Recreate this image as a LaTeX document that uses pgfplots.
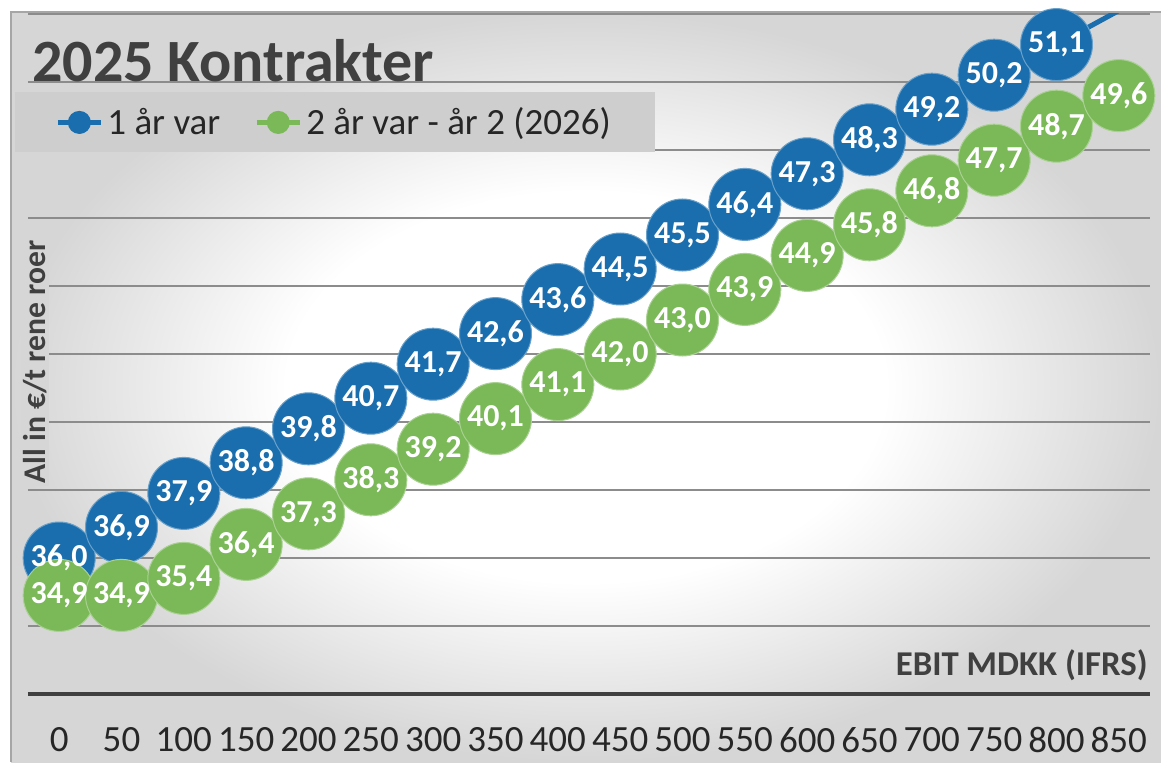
\documentclass[border=0pt]{standalone}
\usepackage{fontspec}
\setmainfont{Carlito}
\usepackage{pgfplots}
\pgfplotsset{compat=1.18}
\usepackage{pgfplotstable}
\definecolor{cblue}{RGB}{26,110,174}
\definecolor{cgreen}{RGB}{122,184,88}
\definecolor{bggray}{RGB}{214,214,214}
\definecolor{txtgray}{RGB}{64,64,64}
\definecolor{gridgray}{RGB}{140,140,140}
\definecolor{leggray}{RGB}{206,206,206}
\pgfdeclareradialshading{glow}{\pgfpoint{0bp}{0bp}}{color(0bp)=(white); color(13bp)=(white); color(25bp)=(bggray); color(50bp)=(bggray)}

\pgfplotstableread{
x y lab
0 36.0 36,0
50 36.9 36,9
100 37.9 37,9
150 38.8 38,8
200 39.8 39,8
250 40.7 40,7
300 41.7 41,7
350 42.6 42,6
400 43.6 43,6
450 44.5 44,5
500 45.5 45,5
550 46.4 46,4
600 47.3 47,3
650 48.3 48,3
700 49.2 49,2
750 50.2 50,2
800 51.1 51,1
}\blueTab

\pgfplotstableread{
x y
800 51.1
850 52.1
}\blueTail

\pgfplotstableread{
x y lab
0 34.9 34,9
50 34.9 34,9
100 35.4 35,4
150 36.4 36,4
200 37.3 37,3
250 38.3 38,3
300 39.2 39,2
350 40.1 40,1
400 41.1 41,1
450 42.0 42,0
500 43.0 43,0
550 43.9 43,9
600 44.9 44,9
650 45.8 45,8
700 46.8 46,8
750 47.7 47,7
800 48.7 48,7
850 49.6 49,6
}\greenTab

\begin{document}
\begin{tikzpicture}
\useasboundingbox (0pt,0pt) rectangle (580.5pt,381pt);
\fill[white] (0pt,0pt) rectangle (580.5pt,381pt);
\shade[shading=glow] (5.5pt,0pt) rectangle (580.5pt,375pt);
\draw[gray!70, line width=0.8pt] (5.5pt,0pt) -- (5.5pt,375pt) -- (580.5pt,375pt);

\begin{axis}[
  at={(14pt,34pt)}, anchor=south west, scale only axis,
  width=561pt, height=340pt,
  xmin=-25, xmax=875, ymin=32, ymax=52,
  axis line style={draw=none},
  xtick={0,50,...,850},
  ytick={34,36,...,52}, yticklabels={},
  major tick length=0pt,
  ymajorgrids, grid style={gridgray, line width=0.7pt},
  extra y ticks={32}, extra y tick labels={},
  extra y tick style={grid style={black!75, line width=2pt}},
  xticklabel style={anchor=center, yshift=-23pt, font=\fontsize{18.5}{22}\selectfont, text=black!85},
  /pgf/number format/assume math mode=true,
  legend style={at={(-0.0116,0.8853)}, anchor=north west, fill=leggray, draw=none,
    inner xsep=20pt, inner ysep=5.5pt, font=\fontsize{18.5}{22}\selectfont, text=black!85,
    /tikz/every even column/.append style={column sep=15pt}},
  legend columns=2, legend cell align=left,
  legend image code/.code={\draw[line width=2.5pt] (0pt,0pt) -- (21.5pt,0pt); \fill (10.75pt,0pt) circle (4.5pt);},
]
\addplot[cblue, line width=2.5pt, forget plot] table[x=x,y=y] {\blueTail};
\addplot[cblue, line width=2.5pt, mark=*, mark size=18pt, mark options={draw=white!35!cblue, line width=0.5pt, fill=cblue}] table[x=x,y=y] {\blueTab};
\addlegendentry{1 år var}
\addplot[cgreen, line width=2.5pt, mark=*, mark size=18pt, mark options={draw=white!35!cgreen, line width=0.5pt, fill=cgreen}] table[x=x,y=y] {\greenTab};
\addlegendentry{2 år var - år 2 (2026)}
\addplot[draw=none, mark=none, forget plot, nodes near coords, point meta=explicit symbolic,
  every node near coord/.style={anchor=center, text=white, font=\bfseries\fontsize{16}{18}\selectfont}]
  table[x=x,y=y,meta=lab] {\blueTab};
\addplot[draw=none, mark=none, forget plot, nodes near coords, point meta=explicit symbolic,
  every node near coord/.style={anchor=center, text=white, font=\bfseries\fontsize{16}{18}\selectfont}]
  table[x=x,y=y,meta=lab] {\greenTab};
\end{axis}

\node[anchor=base west, font=\bfseries\fontsize{30}{36}\selectfont, text=txtgray, inner sep=0pt] at (16pt,340pt) {2025 Kontrakter};
\node[rotate=90, font=\bfseries\fontsize{15.8}{18}\selectfont, text=txtgray, fill=bggray, inner sep=1pt] at (17.5pt,200pt) {All in €/t rene roer};
\node[anchor=east, font=\bfseries\fontsize{17.4}{20}\selectfont, text=txtgray, inner sep=0pt] at (574pt,48.5pt) {EBIT MDKK (IFRS)};
\end{tikzpicture}
\end{document}
